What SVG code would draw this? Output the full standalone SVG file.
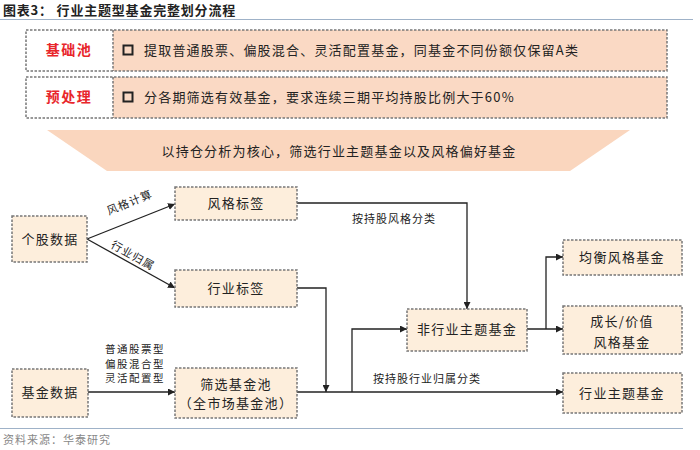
<svg xmlns="http://www.w3.org/2000/svg" width="700" height="450" viewBox="0 0 700 450">
<defs>
<marker id="arr" viewBox="0 0 10 10" refX="10" refY="5" markerWidth="7" markerHeight="7" markerUnits="userSpaceOnUse" orient="auto"><path d="M0,0 L10,5 L0,10 z" fill="#222"/></marker>
<style>
text{font-family:"Noto Sans CJK SC","Noto Sans CJK JP",sans-serif;fill:#222}
.title{font-size:13px;font-weight:bold;letter-spacing:0.8px}
.row{font-size:13px;letter-spacing:1.2px}
.red{fill:#E8262B;font-size:14px;font-weight:bold;letter-spacing:1.5px}
.node rect{fill:#FDEEDC;stroke:#777;stroke-width:1.5;stroke-dasharray:2.5 1.5}
.nt{font-size:13px;letter-spacing:1.3px;text-anchor:middle}
.lbl{font-size:11px;letter-spacing:1px}
.sm{font-size:10.5px;letter-spacing:1.5px;text-anchor:middle}
.rule{stroke:#9FB2C8;stroke-width:1.2}
.dash{fill:none;stroke:#777;stroke-width:1.5;stroke-dasharray:2.5 1.5}
.c{fill:none;stroke:#222;stroke-width:1.3}
</style>
</defs>
<rect width="700" height="450" fill="#fff"/>
<text class="title" x="3" y="15">图表3：  行业主题型基金完整划分流程</text>
<line class="rule" x1="0" y1="19.5" x2="693" y2="19.5"/>

<g id="row1">
<rect x="113" y="30" width="554" height="41" fill="#FAD9C4"/>
<rect x="26" y="30" width="641" height="41" class="dash"/>
<line x1="113" y1="30" x2="113" y2="71" class="dash"/>
<text class="red" x="69" y="55" text-anchor="middle">基础池</text>
<rect x="123.5" y="45.5" width="9" height="9" fill="none" stroke="#222" stroke-width="2"/>
<text class="row" x="144" y="55">提取普通股票、偏股混合、灵活配置基金，同基金不同份额仅保留A类</text>
</g>
<g id="row2">
<rect x="113" y="77" width="554" height="41" fill="#FAD9C4"/>
<rect x="26" y="77" width="641" height="41" class="dash"/>
<line x1="113" y1="77" x2="113" y2="118" class="dash"/>
<text class="red" x="69" y="102" text-anchor="middle">预处理</text>
<rect x="123.5" y="92.5" width="9" height="9" fill="none" stroke="#222" stroke-width="2"/>
<text class="row" x="144" y="102">分各期筛选有效基金，要求连续三期平均持股比例大于60%</text>
</g>
<g id="banner">
<polygon points="47,130 630,130 570,171 107,171" fill="#FAD6BE"/>
<text class="row" x="339" y="156" text-anchor="middle">以持仓分析为核心，筛选行业主题基金以及风格偏好基金</text>
</g>

<g id="connectors">
<line class="c" x1="87" y1="239" x2="175" y2="204" marker-end="url(#arr)"/>
<line class="c" x1="87" y1="239" x2="175" y2="288" marker-end="url(#arr)"/>
<polyline class="c" points="297,203 467,203 467,309" marker-end="url(#arr)"/>
<polyline class="c" points="297,288 326,288 326,392" marker-end="url(#arr)"/>
<line class="c" x1="88" y1="392" x2="175" y2="392" marker-end="url(#arr)"/>
<line class="c" x1="297" y1="392" x2="563" y2="392" marker-end="url(#arr)"/>
<polyline class="c" points="352,392 352,329 407,329" marker-end="url(#arr)"/>
<line class="c" x1="527" y1="329" x2="563" y2="329" marker-end="url(#arr)"/>
<polyline class="c" points="546,329 546,257 563,257" marker-end="url(#arr)"/>
<text class="lbl" transform="translate(131,206) rotate(-22)" text-anchor="middle">风格计算</text>
<text class="lbl" transform="translate(131,259) rotate(29)" text-anchor="middle">行业归属</text>
<text class="lbl" x="394" y="223" text-anchor="middle">按持股风格分类</text>
<text class="lbl" x="427" y="383" text-anchor="middle">按持股行业归属分类</text>
<text class="sm" x="135" y="353">普通股票型</text>
<text class="sm" x="135" y="367.5">偏股混合型</text>
<text class="sm" x="135" y="382">灵活配置型</text>
</g>

<g id="n-gegu" class="node"><rect x="12" y="216" width="75" height="46"/><text class="nt" x="50" y="244">个股数据</text></g>
<g id="n-fengge" class="node"><rect x="175" y="187" width="122" height="33"/><text class="nt" x="236" y="208">风格标签</text></g>
<g id="n-hangye" class="node"><rect x="175" y="270" width="122" height="37"/><text class="nt" x="236" y="293">行业标签</text></g>
<g id="n-jijin" class="node"><rect x="12" y="369" width="76" height="48"/><text class="nt" x="50" y="397">基金数据</text></g>
<g id="n-pool" class="node"><rect x="175" y="368" width="122" height="50"/><text class="nt" x="236" y="389">筛选基金池</text><text class="nt" x="236" y="408">（全市场基金池）</text></g>
<g id="n-fei" class="node"><rect x="407" y="309" width="120" height="42"/><text class="nt" x="467" y="334">非行业主题基金</text></g>
<g id="n-junheng" class="node"><rect x="563" y="240" width="119" height="35"/><text class="nt" x="622" y="262">均衡风格基金</text></g>
<g id="n-chengzhang" class="node"><rect x="563" y="306" width="119" height="48"/><text class="nt" x="622" y="326">成长/价值</text><text class="nt" x="622" y="347">风格基金</text></g>
<g id="n-zhuti" class="node"><rect x="563" y="373" width="119" height="40"/><text class="nt" x="622" y="398">行业主题基金</text></g>

<line class="rule" x1="0" y1="428.5" x2="683" y2="428.5"/>
<text x="3" y="444" style="font-size:11px;fill:#888;letter-spacing:1px">资料来源：华泰研究</text>
</svg>
